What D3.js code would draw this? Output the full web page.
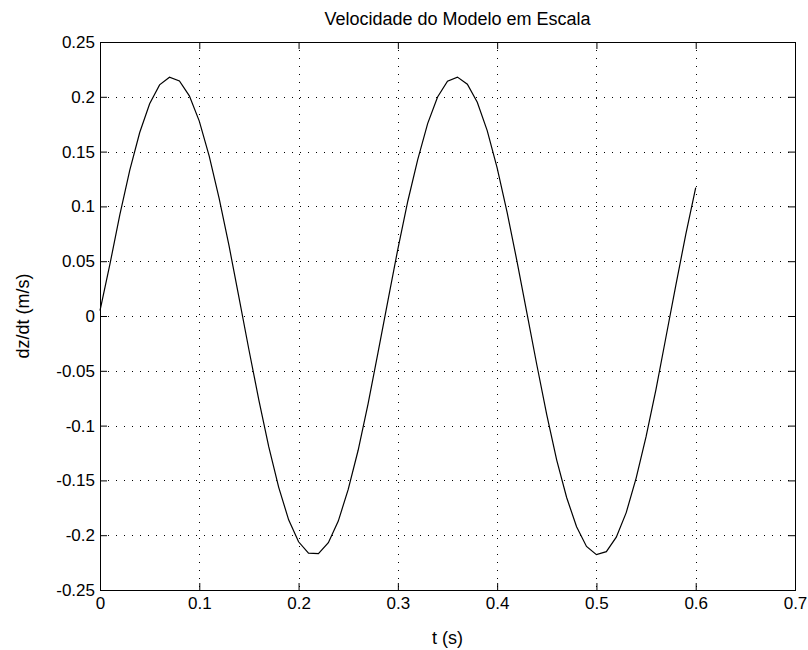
<!DOCTYPE html>
<html><head><meta charset="utf-8">
<script src="https://cdn.jsdelivr.net/npm/d3@7"></script>
<style>body{margin:0;background:#fff}text{font-family:"Liberation Sans",Arial,sans-serif;fill:#000}</style>
</head><body><svg id="c" width="808" height="650"></svg>
<script>
const title = "Velocidade do Modelo em Escala";
const xLabel = "t (s)";
const yLabel = "dz/dt (m/s)";
const xTicks = [0,0.1,0.2,0.3,0.4,0.5,0.6,0.7];
const xTickLabels = ["0","0.1","0.2","0.3","0.4","0.5","0.6","0.7"];
const yTicks = [-0.25,-0.2,-0.15,-0.1,-0.05,0,0.05,0.1,0.15,0.2,0.25];
const yTickLabels = ["-0.25","-0.2","-0.15","-0.1","-0.05","0","0.05","0.1","0.15","0.2","0.25"];
const tValues = [0,0.01,0.02,0.03,0.04,0.05,0.06,0.07,0.08,0.09,0.1,0.11,0.12,0.13,0.14,0.15,0.16,0.17,0.18,0.19,0.2,0.21,0.22,0.23,0.24,0.25,0.26,0.27,0.28,0.29,0.3,0.31,0.32,0.33,0.34,0.35,0.36,0.37,0.38,0.39,0.4,0.41,0.42,0.43,0.44,0.45,0.46,0.47,0.48,0.49,0.5,0.51,0.52,0.53,0.54,0.55,0.56,0.57,0.58,0.59,0.6];
const vValues = [0.005,0.0473,0.0924,0.1331,0.1674,0.1937,0.2109,0.2178,0.2145,0.2009,0.1778,0.1459,0.1074,0.0639,0.0168,-0.0308,-0.0767,-0.1195,-0.1563,-0.1860,-0.2060,-0.2164,-0.2168,-0.2068,-0.1871,-0.1582,-0.1225,-0.0802,-0.0334,0.0141,0.0611,0.1047,0.1426,0.1755,0.1998,0.2142,0.2180,0.2115,0.1950,0.1691,0.1352,0.0947,0.0499,0.0026,-0.0447,-0.0902,-0.1315,-0.1656,-0.1923,-0.2103,-0.2177,-0.2150,-0.2018,-0.1794,-0.1479,-0.1101,-0.0669,-0.0194,0.0282,0.0745,0.1172];

const L=100,R=795,T=42,B=590;
const svg=d3.select("#c");
const x=d3.scaleLinear().domain([0,0.7]).range([L,R]);
const y=d3.scaleLinear().domain([-0.25,0.25]).range([B,T]);
const fs=17, fsLab=18;

// grid
const g=svg.append("g");
g.selectAll(".gx").data(xTicks.slice(1,-1)).enter().append("line")
 .attr("x1",d=>Math.round(x(d))+0.5).attr("x2",d=>Math.round(x(d))+0.5).attr("y1",T).attr("y2",B)
 .attr("stroke","#000").attr("stroke-width",1).attr("stroke-dasharray","1,7");
g.selectAll(".gy").data(yTicks.slice(1,-1)).enter().append("line")
 .attr("y1",d=>Math.round(y(d))+0.5).attr("y2",d=>Math.round(y(d))+0.5).attr("x1",L).attr("x2",R)
 .attr("stroke","#000").attr("stroke-width",1).attr("stroke-dasharray","1,7");

// axes with inward ticks
const tl=7;
const fmtX=(d,i)=>xTickLabels[i], fmtY=(d,i)=>yTickLabels[i];
svg.append("g").attr("transform",`translate(0,${B})`).call(d3.axisBottom(x).tickValues(xTicks).tickFormat(fmtX).tickSize(-tl).tickPadding(7));
svg.append("g").attr("transform",`translate(0,${T})`).call(d3.axisTop(x).tickValues(xTicks).tickFormat("").tickSize(-tl));
svg.append("g").attr("transform",`translate(${L},0)`).call(d3.axisLeft(y).tickValues(yTicks).tickFormat(fmtY).tickSize(-tl).tickPadding(5));
svg.append("g").attr("transform",`translate(${R},0)`).call(d3.axisRight(y).tickValues(yTicks).tickFormat("").tickSize(-tl));
svg.selectAll(".domain").remove();
svg.selectAll(".tick line").attr("stroke","#000");
svg.selectAll(".tick text").attr("font-size",fs).attr("font-family","Liberation Sans, Arial, sans-serif").attr("fill","#000");

// frame
svg.append("rect").attr("x",L+0.5).attr("y",T+0.5).attr("width",R-L).attr("height",B-T)
 .attr("fill","none").attr("stroke","#000").attr("stroke-width",1);

// line
const data=tValues.map((t,i)=>[t,vValues[i]]);
svg.append("path").datum(data).attr("fill","none").attr("stroke","#000").attr("stroke-width",1.2)
 .attr("d",d3.line().x(d=>x(d[0])).y(d=>y(d[1])));

// labels
svg.append("text").attr("x",(L+R)/2+10).attr("y",25).attr("text-anchor","middle").attr("font-size",fsLab).text(title);
svg.append("text").attr("x",(L+R)/2).attr("y",644).attr("text-anchor","middle").attr("font-size",fsLab).text(xLabel);
svg.append("text").attr("transform",`translate(29,${(T+B)/2}) rotate(-90)`).attr("text-anchor","middle").attr("font-size",fsLab).text(yLabel);
</script></body></html>
